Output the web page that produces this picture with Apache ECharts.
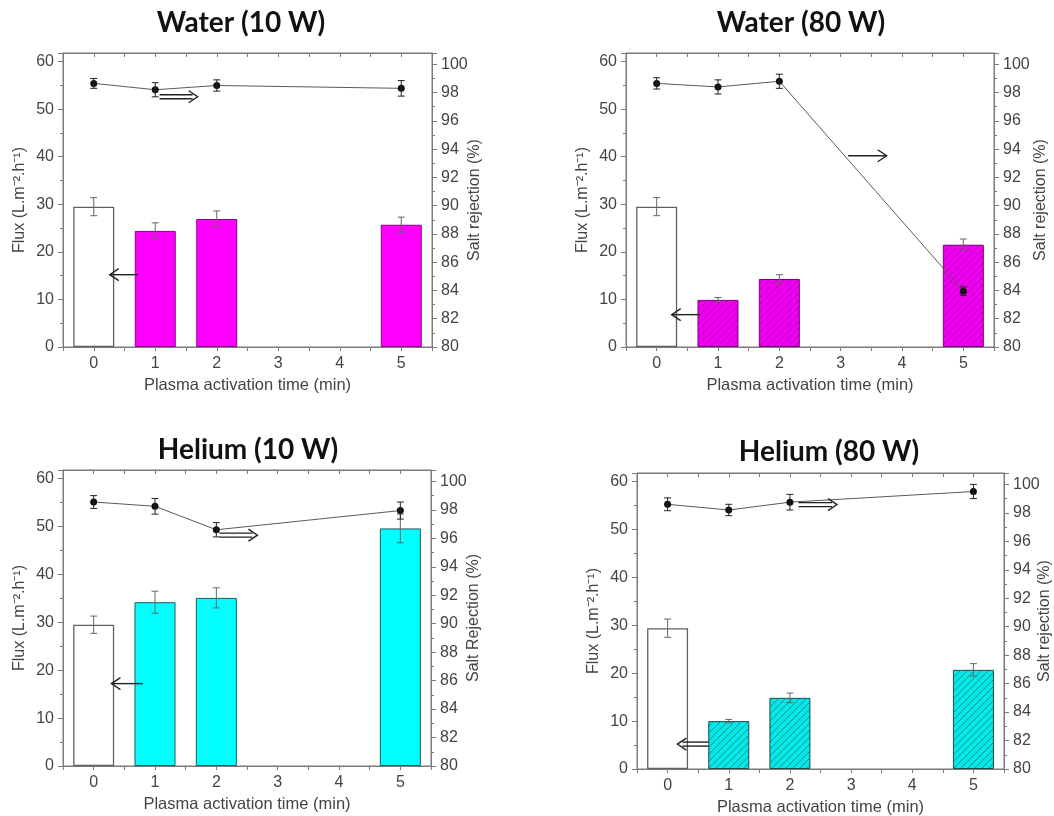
<!DOCTYPE html>
<html><head><meta charset="utf-8">
<script src="https://cdn.jsdelivr.net/npm/echarts@6/dist/echarts.min.js"></script>
<style>html,body{margin:0;padding:0;background:#fff}#c{width:1054px;height:816px}</style>
</head><body><div id="c"></div>
<script>
// ---------- data ----------
const times = [0, 1, 2, 5];
const panelTitles = ['Water (10 W)', 'Water (80 W)', 'Helium (10 W)', 'Helium (80 W)'];
const leftAxisName = 'Flux (L.m\u207B\u00B2.h\u207B\u00B9)';
const rightAxisNames = ['Salt rejection (%)', 'Salt rejection (%)', 'Salt Rejection (%)', 'Salt rejection (%)'];
const xAxisName = 'Plasma activation time (min)';

const water10Flux = [29.5, 24.4, 26.9, 25.7];
const water10FluxErr = [1.9, 1.7, 1.7, 1.6];
const water10Rej = [98.65, 98.2, 98.5, 98.3];
const water10RejErr = [0.35, 0.5, 0.4, 0.55];

const water80Flux = [29.5, 9.9, 14.3, 21.5];
const water80FluxErr = [1.9, 0.5, 0.9, 1.2];
const water80Rej = [98.65, 98.4, 98.8, 83.95];
const water80RejErr = [0.4, 0.5, 0.5, 0.3];

const helium10Flux = [29.5, 34.2, 35.1, 49.6];
const helium10FluxErr = [1.8, 2.3, 2.1, 3.0];
const helium10Rej = [98.55, 98.25, 96.6, 97.95];
const helium10RejErr = [0.45, 0.55, 0.5, 0.6];

const helium80Flux = [29.4, 10.0, 14.85, 20.7];
const helium80FluxErr = [1.9, 0.35, 1.0, 1.3];
const helium80Rej = [98.6, 98.2, 98.75, 99.5];
const helium80RejErr = [0.45, 0.4, 0.55, 0.5];

// ---------- layout / style ----------
const grids = [
  {left: 63, top: 53, width: 369, height: 294},
  {left: 626, top: 53, width: 368, height: 294},
  {left: 63, top: 470, width: 368, height: 296},
  {left: 637, top: 473, width: 367, height: 296}
];
const titlePos = [[241, 23], [801, 23], [248, 450], [829, 452]];
const rightNameGap = [35, 39, 35, 33];

function hatch(bg, fg) {
  const s = 7;
  const c = document.createElement('canvas'); c.width = s; c.height = s;
  const g = c.getContext('2d');
  g.fillStyle = bg; g.fillRect(0, 0, s, s);
  g.strokeStyle = fg; g.lineWidth = 1;
  g.beginPath();
  g.moveTo(-1, s + 1); g.lineTo(s + 1, -1);
  g.moveTo(-1 - s, 1); g.lineTo(1, -1 - s);
  g.moveTo(s - 1, 2 * s + 1); g.lineTo(2 * s + 1, s - 1);
  g.stroke();
  return {image: c, repeat: 'repeat'};
}
const magenta = '#ff00ff', cyan = '#00ffff';
const fills = [
  {color: magenta, border: '#8a008a'},
  {color: hatch('#f000f0', '#b400b4'), border: '#7a007a'},
  {color: cyan, border: '#1e5a5a'},
  {color: hatch('#00e8e8', '#2a8a8a'), border: '#1e4e4e'}
];
const panels = [
  {flux: water10Flux, fluxErr: water10FluxErr, rej: water10Rej, rejErr: water10RejErr},
  {flux: water80Flux, fluxErr: water80FluxErr, rej: water80Rej, rejErr: water80RejErr},
  {flux: helium10Flux, fluxErr: helium10FluxErr, rej: helium10Rej, rejErr: helium10RejErr},
  {flux: helium80Flux, fluxErr: helium80FluxErr, rej: helium80Rej, rejErr: helium80RejErr}
];

const axisColor = '#7a7a7a';
const textColor = '#444';
const font = 'Liberation Sans';

function errSeries(xi, yi, vals, errs, color, z) {
  return {
    type: 'custom', xAxisIndex: xi, yAxisIndex: yi, z: z, silent: true,
    data: times.map((t, i) => [t, vals[i] - errs[i], vals[i] + errs[i]]),
    encode: {x: 0, y: [1, 2]},
    renderItem(params, api) {
      const lo = api.coord([api.value(0), api.value(1)]);
      const hi = api.coord([api.value(0), api.value(2)]);
      const w = 3.5;
      const st = {stroke: color, lineWidth: 1};
      return {type: 'group', children: [
        {type: 'line', shape: {x1: lo[0], y1: lo[1], x2: hi[0], y2: hi[1]}, style: st},
        {type: 'line', shape: {x1: lo[0] - w, y1: lo[1], x2: lo[0] + w, y2: lo[1]}, style: st},
        {type: 'line', shape: {x1: hi[0] - w, y1: hi[1], x2: hi[0] + w, y2: hi[1]}, style: st}
      ]};
    }
  };
}

const option = {
  animation: false,
  backgroundColor: '#fff',
  grid: [], xAxis: [], yAxis: [], series: []
};

panels.forEach((p, k) => {
  const g = grids[k];
  option.grid.push(Object.assign({show: true, borderColor: axisColor, borderWidth: 1,
    backgroundColor: 'transparent', containLabel: false, outerBoundsMode: 'none'}, g));
  // bottom x axis
  option.xAxis.push({
    gridIndex: k, type: 'value', min: -0.5, max: 5.5, interval: 0.5,
    axisLine: {onZero: false, lineStyle: {color: axisColor}},
    axisTick: {length: 4, lineStyle: {color: axisColor}},
    axisLabel: {color: textColor, fontFamily: font, fontSize: 16, margin: 9,
      formatter: v => (Number.isInteger(v) && v >= 0 && v <= 5) ? String(v) : ''},
    splitLine: {show: false},
    name: xAxisName, nameLocation: 'middle', nameGap: 30,
    nameTextStyle: {color: textColor, fontFamily: font, fontSize: 16.5}
  });
  // top mirror axis (ticks only)
  option.xAxis.push({
    gridIndex: k, type: 'value', position: 'top', min: -0.5, max: 5.5, interval: 0.5,
    axisLine: {onZero: false, lineStyle: {color: axisColor}},
    axisTick: {inside: true, length: 4, lineStyle: {color: axisColor}},
    axisLabel: {show: false}, splitLine: {show: false}
  });
  // left flux axis
  option.yAxis.push({
    gridIndex: k, type: 'value', position: 'left', min: 0, max: 61.8, interval: 10,
    axisLine: {show: true, onZero: false, lineStyle: {color: axisColor}},
    axisTick: {length: 5, lineStyle: {color: axisColor}},
    minorTick: {show: true, splitNumber: 2, length: 3, lineStyle: {color: axisColor}},
    axisLabel: {color: textColor, fontFamily: font, fontSize: 16, margin: 9,
      formatter: v => (v % 10 === 0 && v <= 60) ? String(v) : ''},
    splitLine: {show: false},
    name: leftAxisName, nameLocation: 'middle', nameGap: 35, nameRotate: 90,
    nameTextStyle: {color: textColor, fontFamily: font, fontSize: 16}
  });
  // right salt rejection axis
  option.yAxis.push({
    gridIndex: k, type: 'value', position: 'right', min: 80, max: 100.8, interval: 2,
    axisLine: {show: true, onZero: false, lineStyle: {color: axisColor}},
    axisTick: {length: 5, lineStyle: {color: axisColor}},
    minorTick: {show: true, splitNumber: 2, length: 3, lineStyle: {color: axisColor}},
    axisLabel: {color: textColor, fontFamily: font, fontSize: 16, margin: 9,
      formatter: v => (v % 2 === 0 && v <= 100) ? String(v) : ''},
    splitLine: {show: false},
    name: rightAxisNames[k], nameLocation: 'middle', nameGap: rightNameGap[k], nameRotate: 90,
    nameMoveOverlap: false,
    nameTextStyle: {color: textColor, fontFamily: font, fontSize: 16}
  });
  const xi = 2 * k, yl = 2 * k, yr = 2 * k + 1;
  option.series.push({
    type: 'bar', xAxisIndex: xi, yAxisIndex: yl, barWidth: 41, z: 2,
    data: times.map((t, i) => ({
      value: [t, p.flux[i]],
      itemStyle: i === 0
        ? {color: '#ffffff', borderColor: '#606060', borderWidth: 1.3}
        : {color: fills[k].color, borderColor: fills[k].border, borderWidth: 1}
    }))
  });
  option.series.push(errSeries(xi, yl, p.flux, p.fluxErr, '#666', 3));
  option.series.push({
    type: 'line', xAxisIndex: xi, yAxisIndex: yr, z: 4,
    data: times.map((t, i) => [t, p.rej[i]]),
    symbol: 'circle', symbolSize: 7,
    itemStyle: {color: '#111'},
    lineStyle: {color: '#5a5a5a', width: 1}
  });
  option.series.push(errSeries(xi, yr, p.rej, p.rejErr, '#222', 5));
});

const chart = echarts.init(document.getElementById('c'), null, {renderer: 'canvas'});
chart.setOption(option);

// ---------- annotations: titles and arrows ----------
// arrow positions in data units of [x, flux]: [xStart, xEnd, y, style]
const rightArrows = [[1.07, 1.69, 52.6, 'double'], [3.12, 3.75, 40.2, 'single'], [2.05, 2.67, 48.2, 'double'], [2.14, 2.77, 55.2, 'double']];
const leftArrows = [[0.72, 0.26, 15.2, 'single'], [0.71, 0.245, 6.8, 'single'], [0.8, 0.29, 17.2, 'single'], [0.67, 0.16, 5.2, 'double']];

function arrowGraphic(k, a) {
  const p0 = chart.convertToPixel({xAxisIndex: 2 * k, yAxisIndex: 2 * k}, [a[0], a[2]]);
  const p1 = chart.convertToPixel({xAxisIndex: 2 * k, yAxisIndex: 2 * k}, [a[1], a[2]]);
  const dir = p1[0] > p0[0] ? 1 : -1;
  const y = p0[1];
  const st = {stroke: '#222', lineWidth: 1.4, fill: null};
  const children = [];
  if (a[3] === 'double') {
    children.push({type: 'line', z: 100, shape: {x1: p0[0], y1: y - 2, x2: p1[0] - dir * 5, y2: y - 2}, style: st});
    children.push({type: 'line', z: 100, shape: {x1: p0[0], y1: y + 2, x2: p1[0] - dir * 5, y2: y + 2}, style: st});
  } else {
    children.push({type: 'line', z: 100, shape: {x1: p0[0], y1: y, x2: p1[0], y2: y}, style: st});
  }
  children.push({type: 'polyline', z: 100, shape: {points: [[p1[0] - dir * 9, y - 6], [p1[0], y], [p1[0] - dir * 9, y + 6]]}, style: st});
  return {type: 'group', z: 100, children: children};
}

const graphics = [];
panelTitles.forEach((t, k) => {
  graphics.push({type: 'text', x: titlePos[k][0], y: titlePos[k][1], z: 100,
    style: {text: t, font: 'bold 28px Lato', fill: '#111', textAlign: 'center', textVerticalAlign: 'middle'}});
  graphics.push(arrowGraphic(k, rightArrows[k]));
  graphics.push(arrowGraphic(k, leftArrows[k]));
});
chart.setOption({graphic: graphics});
</script>
</body></html>
